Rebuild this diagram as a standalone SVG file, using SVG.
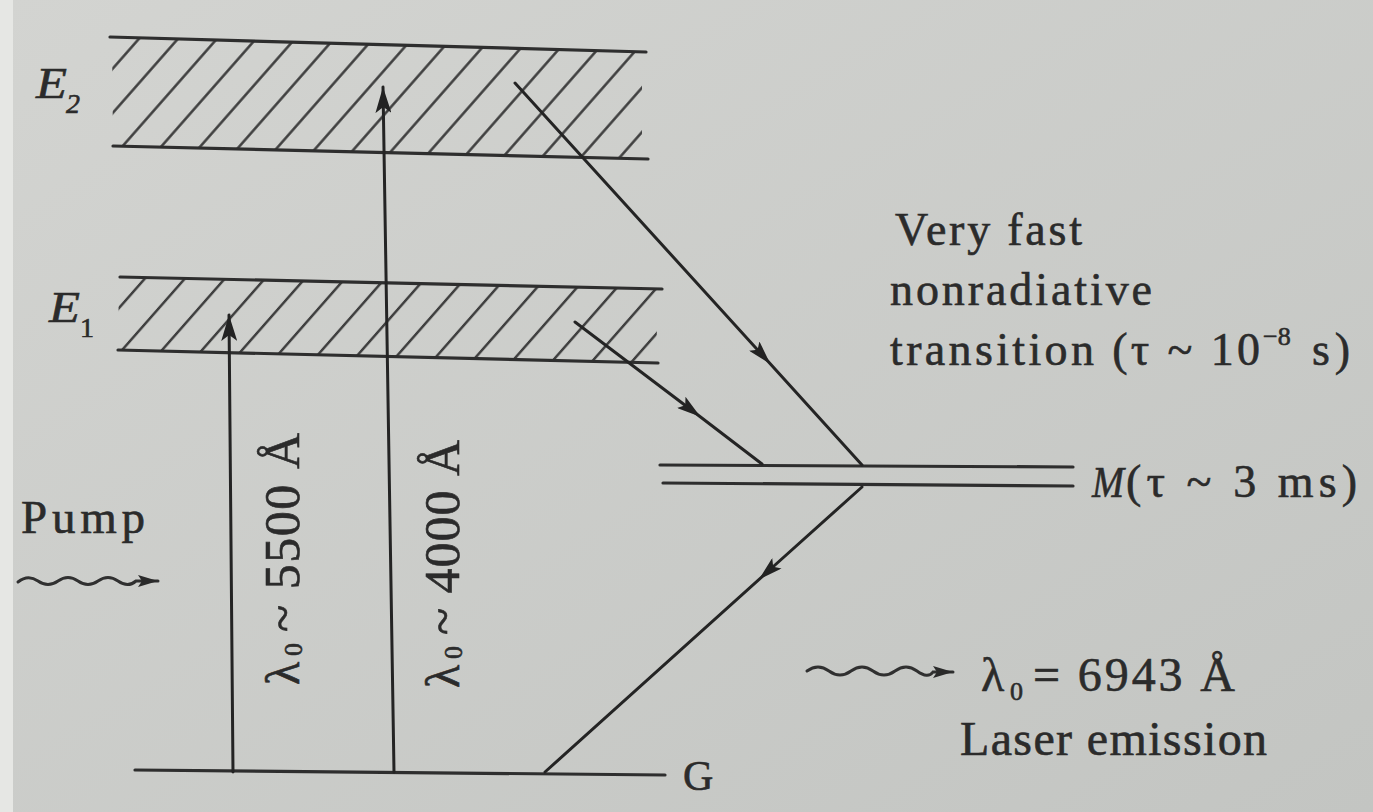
<svg xmlns="http://www.w3.org/2000/svg" width="1373" height="812" viewBox="0 0 1373 812">
<defs>
<style>
.lvl{stroke:#2e2e2e;stroke-width:3.2;fill:none;stroke-linecap:round}
.con{stroke:#242424;stroke-width:3;fill:none;stroke-linecap:round}
.wave{stroke:#303030;stroke-width:3;fill:none;stroke-linecap:round}
.t{font-family:"Liberation Serif","Times New Roman",serif;fill:#2b2b2b;stroke:#2b2b2b;stroke-width:0.6}
.it{font-style:italic}
</style>
<linearGradient id="bg" x1="0" y1="0" x2="1" y2="1">
<stop offset="0" stop-color="#d3d4d1"/>
<stop offset="1" stop-color="#c3c5c2"/>
</linearGradient>
<pattern id="h2" patternUnits="userSpaceOnUse" width="39" height="20" patternTransform="skewX(-41.3)">
<line x1="17" y1="-2" x2="17" y2="22" stroke="#404040" stroke-width="3.4"/>
</pattern>
<pattern id="h1" patternUnits="userSpaceOnUse" width="40" height="20" patternTransform="skewX(-41.3)">
<line x1="29.6" y1="-2" x2="29.6" y2="22" stroke="#404040" stroke-width="3.4"/>
</pattern>
<marker id="ah" viewBox="0 0 26 16" refX="26" refY="8" markerWidth="26" markerHeight="16" markerUnits="userSpaceOnUse" orient="auto">
<path d="M0,0 L26,8 L0,16 L6,8 z" fill="#222"/>
</marker>
<marker id="am" viewBox="0 0 24 14" refX="16" refY="7" markerWidth="24" markerHeight="14" markerUnits="userSpaceOnUse" orient="auto">
<path d="M0,0 L24,7 L0,14 L5,7 z" fill="#222"/>
</marker>
<marker id="aw" viewBox="0 0 20 12" refX="20" refY="6" markerWidth="20" markerHeight="12" markerUnits="userSpaceOnUse" orient="auto">
<path d="M0,0 L20,6 L0,12 L4,6 z" fill="#2a2a2a"/>
</marker>
</defs>

<rect x="0" y="0" width="1373" height="812" fill="url(#bg)"/>
<rect x="0" y="0" width="13" height="812" fill="#e6e7e4"/>

<g id="E2">
<polygon points="112,38 642,52 642,158 113,146" fill="url(#h2)"/>
<line class="lvl" x1="110" y1="37" x2="646" y2="52"/>
<line class="lvl" x1="113" y1="146" x2="648" y2="159"/>
<text class="t it" x="36" y="98" font-size="44" textLength="31" lengthAdjust="spacingAndGlyphs">E</text>
<text class="t it" x="66" y="113" font-size="28">2</text>
</g>

<g id="E1">
<polygon points="119,277 658,289 656,362 118,350" fill="url(#h1)"/>
<line class="lvl" x1="120" y1="277" x2="662" y2="289"/>
<line class="lvl" x1="118" y1="350" x2="658" y2="363"/>
<text class="t it" x="49" y="322" font-size="44" textLength="31" lengthAdjust="spacingAndGlyphs">E</text>
<text class="t" x="80" y="337" font-size="28">1</text>
</g>

<g id="M">
<line class="lvl" x1="660" y1="465" x2="1073" y2="467"/>
<line class="lvl" x1="663" y1="483" x2="1073" y2="486"/>
<text class="t it" x="1092" y="497" font-size="44" textLength="32" lengthAdjust="spacingAndGlyphs">M</text>
<text class="t" x="1126" y="497" font-size="46" textLength="231" lengthAdjust="spacing">(τ ~ 3 ms)</text>
</g>

<g id="G">
<line class="lvl" x1="135" y1="770" x2="665" y2="775"/>
<text class="t" x="683" y="790" font-size="42">G</text>
</g>

<g id="pump">
<text class="t" x="21" y="533" font-size="47" textLength="124" lengthAdjust="spacing">Pump</text>
<path class="wave" d="M18,582 Q28,574 38,581 T58,581 T78,581 T98,581 T118,581 T136,581 L158,581" marker-end="url(#aw)"/>
</g>

<g id="label-5500" transform="translate(299,685) rotate(-90)">
<text class="t" x="0" y="0" font-size="48">λ</text>
<text class="t" x="29" y="3" font-size="26">0</text>
<text class="t" x="53" y="0" font-size="50" textLength="199" lengthAdjust="spacing">~ 5500 Å</text>
</g>

<g id="label-4000" transform="translate(459,688) rotate(-90)">
<text class="t" x="0" y="0" font-size="48">λ</text>
<text class="t" x="29" y="3" font-size="26">0</text>
<text class="t" x="53" y="0" font-size="50" textLength="195" lengthAdjust="spacing">~ 4000 Å</text>
</g>

<g id="nonradiative-label">
<text class="t" x="895" y="245" font-size="46" textLength="187" lengthAdjust="spacing">Very fast</text>
<text class="t" x="890" y="305" font-size="46" textLength="262" lengthAdjust="spacing">nonradiative</text>
<text class="t" x="890" y="365" font-size="46" textLength="370" lengthAdjust="spacing">transition (τ ~ 10</text>
<text class="t" x="1263" y="345" font-size="26">−8</text>
<text class="t" x="1312" y="365" font-size="46" textLength="38" lengthAdjust="spacing">s)</text>
</g>

<g id="laser-label">
<path class="wave" d="M807,671 Q818,663 829,671 T851,671 T873,671 T895,671 T917,671 T933,672 L953,672" marker-end="url(#aw)"/>
<text class="t" x="981" y="691" font-size="48">λ</text>
<text class="t" x="1010" y="700" font-size="26">0</text>
<text class="t" x="1033" y="691" font-size="48" textLength="202" lengthAdjust="spacing">= 6943 Å</text>
<text class="t" x="960" y="755" font-size="48" textLength="307" lengthAdjust="spacing">Laser emission</text>
</g>

<g id="connectors">
<line class="con" x1="233" y1="772" x2="229" y2="315" marker-end="url(#ah)"/>
<line class="con" x1="394" y1="772" x2="383" y2="87" marker-end="url(#ah)"/>
<path class="con" d="M515,83 L765,358 L862,465" marker-mid="url(#am)"/>
<path class="con" d="M575,322 L694,412 L762,464" marker-mid="url(#am)"/>
<path class="con" d="M862,487 L765,574 L545,772" marker-mid="url(#am)"/>
</g>
</svg>
